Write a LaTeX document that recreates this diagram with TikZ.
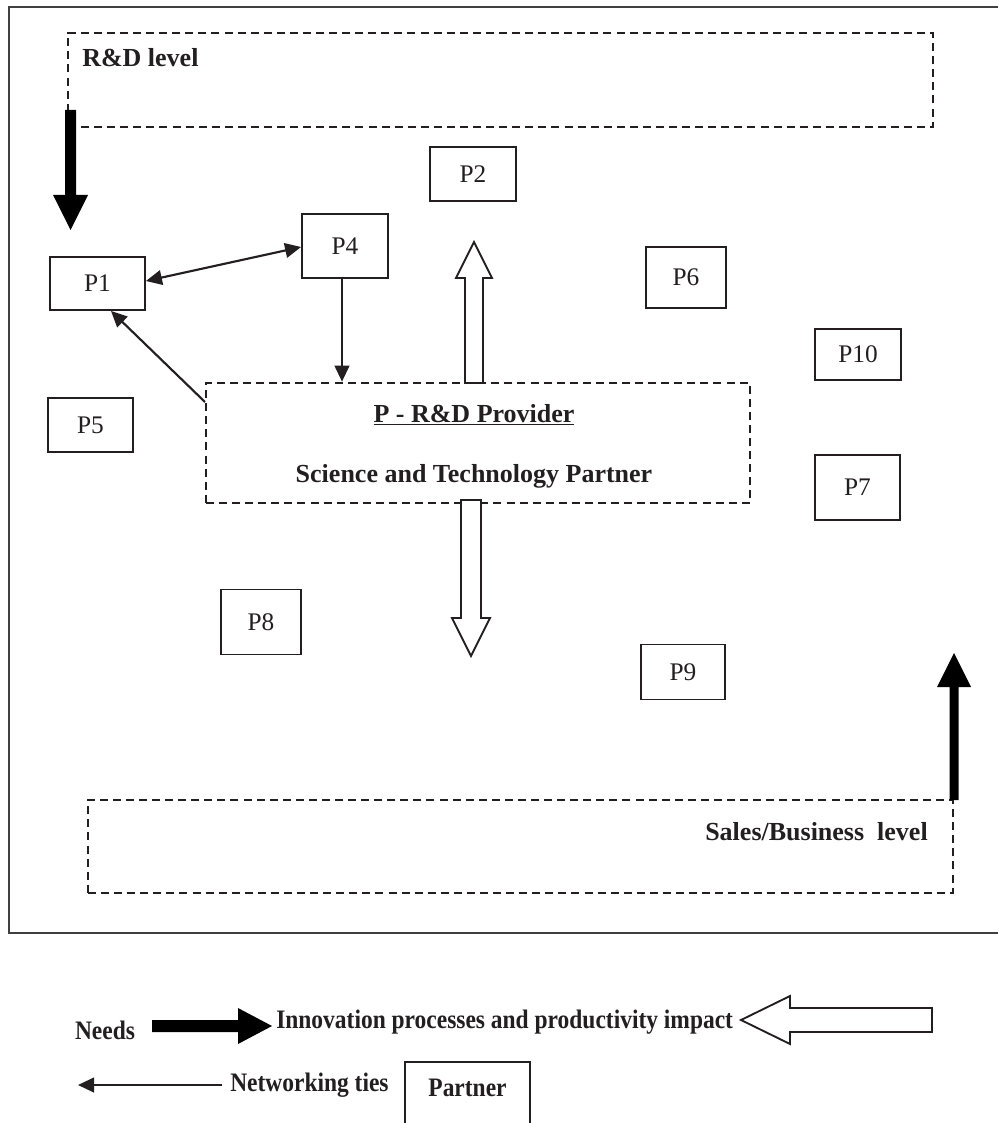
\documentclass[tikz,border=0pt]{standalone}
\usepackage{fontspec}
\setmainfont{Liberation Serif}
\newfontfamily\legfont[FakeStretch=0.88]{Liberation Serif}
\usetikzlibrary{arrows.meta}
\definecolor{ink}{HTML}{231F20}
\begin{document}
\begin{tikzpicture}[x=0.75pt,y=-0.75pt,
  pbox/.style 2 args={draw=ink, line width=1.4pt, inner sep=0pt, text=ink,
     minimum width=#1*0.75pt, minimum height=#2*0.75pt, font=\fontsize{19}{22}\selectfont},
  dbox/.style 2 args={draw=ink, line width=2pt, dash pattern=on 6pt off 3.8pt, inner sep=0pt,
     minimum width=#1*0.75pt, minimum height=#2*0.75pt},
  lbl/.style={text=ink, inner sep=0pt, font=\bfseries\fontsize{19.5}{45}\selectfont},
  leg/.style={text=ink, inner sep=0pt, font=\legfont\bfseries\fontsize{20}{22}\selectfont},
  tie/.style={draw=ink, line width=1.6pt, -{Triangle[length=12pt,width=11pt]}},
  tietwo/.style={draw=ink, line width=1.6pt, {Triangle[length=12pt,width=11pt]}-{Triangle[length=12pt,width=11pt]}},
  solidarrow/.style={fill=black},
  hollowarrow/.style={draw=ink, fill=white, line width=1.4pt, line join=miter},
  frame/.style={draw=black!75, line width=1.1pt}
]
\useasboundingbox (0,0) rectangle (997,1123);
\fill[white] (0,0) rectangle (997,1123);

% outer frame (right side beyond the picture)
\draw[frame] (1005,7) -- (9,7) -- (9,933) -- (1005,933);

% level boxes
\node[dbox={865}{94}] (rd) at (500.5,80) {};
\node[lbl, anchor=west] (rdl) at (82,58) {R\&D level};
\node[dbox={865}{93}] (sb) at (520.5,846.5) {};
\node[lbl, anchor=east] (sbl) at (928,832) {Sales/Business\ \ level};

% central provider box
\node[dbox={544}{120}] (prov) at (478,443) {};
\node[lbl, align=center] (provt) at (474,446) {\underline{P - R\&D Provider}\\Science and Technology Partner};

% partners
\node[pbox={95}{53}] (p1) at (97.5,283.5) {P1};
\node[pbox={86}{64}] (p4) at (345,246) {P4};
\node[pbox={86}{54}] (p2) at (473,174) {P2};
\node[pbox={80}{61}] (p6) at (686,277.5) {P6};
\node[pbox={86}{51}] (p10) at (858,354.5) {P10};
\node[pbox={85}{54}] (p5) at (90.5,425) {P5};
\node[pbox={85}{65}] (p7) at (857.5,487.5) {P7};
\node[pbox={80}{65}] (p8) at (261,622) {P8};
\node[pbox={84}{55}] (p9) at (683,672) {P9};

% networking ties
\draw[tietwo] (p1.east |- 0,281) -- (p4.west |- 0,247);
\draw[tie] (p4.south -| 342,0) -- (prov.north -| 342,0);
\coordinate (provc) at (205,402);
\draw[tie] (provc) -- (p1.south -| 111,0);

% needs arrows (solid)
\fill[solidarrow] (65,110) -- (76,110) -- (76,195) -- (88,195) -- (70.5,230) -- (53,195) -- (65,195) -- cycle;
\fill[solidarrow] (949.5,800) -- (958.5,800) -- (958.5,687) -- (971,687) -- (954,653) -- (937,687) -- (949.5,687) -- cycle;

% innovation arrows (hollow)
\filldraw[hollowarrow] (465,383) -- (483,383) -- (483,278) -- (492,278) -- (474,242) -- (456,278) -- (465,278) -- cycle;
\filldraw[hollowarrow] (461,500) -- (481,500) -- (481,618) -- (490,618) -- (471,656) -- (452,618) -- (461,618) -- cycle;

% legend
\node[leg] (lneeds) at (105,1030) {Needs};
\fill[solidarrow] (152,1020) -- (238,1020) -- (238,1008) -- (272,1026) -- (238,1044) -- (238,1032) -- (152,1032) -- cycle;
\node[leg, anchor=west] (linno) at (276,1022) {Innovation processes and productivity impact};
\filldraw[hollowarrow] (932,1008) -- (790,1008) -- (790,996) -- (741,1020) -- (790,1044) -- (790,1032) -- (932,1032) -- cycle;
\coordinate (ltS) at (222,1085);
\coordinate (ltE) at (78,1085);
\draw[tie] (ltS) -- (ltE);
\node[leg, anchor=west] (lnet) at (230,1085) {Networking ties};
\draw[draw=ink, line width=1.4pt] (405,1130) -- (405,1062) -- (530,1062) -- (530,1130);
\node[leg] (lpart) at (467.5,1088) {Partner};
\end{tikzpicture}
\end{document}
